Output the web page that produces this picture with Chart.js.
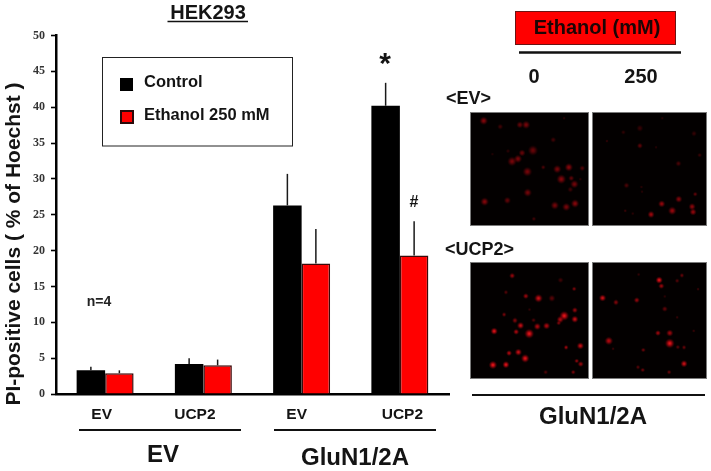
<!DOCTYPE html>
<html><head><meta charset="utf-8">
<script src="https://cdn.jsdelivr.net/npm/chart.js@4"></script>
<style>
html,body{margin:0;padding:0;background:#fff;width:711px;height:471px;overflow:hidden}
#wrap{position:relative;width:711px;height:471px}
#main{position:absolute;left:0;top:0;filter:blur(0.35px)}
.p{position:absolute;display:block;filter:blur(0.3px)}
</style></head><body>
<div id="wrap"><canvas id="main" width="711" height="471"></canvas></div>
<script>
const FONT='"Liberation Sans",Arial,sans-serif';
const categories=['EV','UCP2','EV','UCP2'];
const controlValues=[3.3,4.2,26.3,40.2];
const ethanolValues=[2.9,4.0,18.2,19.3];
const controlErrors=[0.5,0.8,4.4,3.2];
const ethanolErrors=[0.4,0.8,4.8,4.8];
const yTicks=[0,5,10,15,20,25,30,35,40,45,50];
// micrograph spots: [x, y, radius, brightness]
const spotsEV0=[[122,353,3,.8],[175,372,2,.4],[238,366,2.5,.6],[258,366,3,.7],[380,345,1,.3],[345,414,2,.4],[280,448,3.8,.6],[245,456,2.5,.6],[232,475,3,.7],[213,483,3.5,.7],[200,450,1.5,.25],[262,516,3.5,.7],[313,502,1.5,.5],[358,508,3,.7],[395,502,3,.8],[438,505,2,.5],[371,540,3.5,.8],[403,537,2,.6],[413,556,3,.7],[432,540,1,.3],[400,573,2,.4],[263,583,3,.7],[125,612,3,.8],[198,608,2.5,.6],[350,624,3,.7],[387,629,3,.7],[415,618,3,.8],[283,667,1.5,.4],[150,460,1,.25]];
const spotsEV250=[[598,377,2.5,.3],[545,390,1.5,.3],[772,394,2,.3],[598,433,2,.55],[492,418,1,.3],[650,438,1,.25],[790,463,1.5,.35],[722,490,2,.45],[555,560,2,.45],[603,565,1,.25],[605,580,1,.25],[723,604,2.5,.75],[776,588,1.5,.6],[668,619,2.5,.85],[702,641,3,.85],[766,628,2.5,.8],[769,645,2.5,.8],[634,653,2.5,.9],[551,641,1,.4],[575,650,1,.3],[670,345,1,.25]];
const spotsUCP0=[[212,114,2,.7],[368,128,2,.3],[192,167,1.5,.4],[412,156,1.5,.6],[256,179,2,.7],[297,186,3,.9],[340,186,2.5,.4],[414,224,2,.7],[268,222,1,.3],[186,238,1.5,.6],[221,257,2,.6],[380,242,3.5,1],[367,254,2.5,.8],[362,265,1.5,.6],[414,253,2.5,.9],[281,256,1.5,.4],[239,273,2.5,.9],[293,276,2.5,.8],[323,274,2.5,.8],[154,291,2.5,1],[225,293,2,.8],[267,299,3.5,1],[386,343,1.5,.8],[432,338,2.5,.9],[202,361,2,.8],[232,358,2.5,.9],[254,378,3,1],[150,399,3,1],[192,398,2.5,1],[420,386,1.5,.7],[433,396,2,.7],[320,422,1.5,.4],[409,422,1.5,.6]];
const spotsUCP250=[[594,110,1,.3],[733,113,1.5,.5],[660,128,2.5,1],[718,130,1.5,.4],[667,147,2,.7],[785,157,1,.3],[478,185,2.5,.9],[521,199,2,.6],[588,192,2,.7],[678,220,2,.45],[718,247,1,.3],[771,290,1,.3],[656,297,2,.7],[694,297,2.5,.7],[498,322,3,.8],[694,330,3.5,1],[720,342,1.5,.4],[740,343,1.5,.5],[609,351,1.5,.5],[512,347,1,.3],[740,395,2.5,.9],[592,406,1.5,.4],[607,415,1.5,.5],[692,422,1.5,.5],[678,180,1,.25]];

function T(c,s,x,y,font,o={}){
  c.save();c.font=font;c.fillStyle=o.color||'#141414';c.textAlign=o.align||'center';c.textBaseline='middle';
  if(o.rotate){c.translate(x,y);c.rotate(o.rotate);c.fillText(s,0,0);}else c.fillText(s,x,y);
  c.restore();
}
function L(c,x1,y1,x2,y2,w,col){c.save();c.strokeStyle=col||'#111';c.lineWidth=w;c.beginPath();c.moveTo(x1,y1);c.lineTo(x2,y2);c.stroke();c.restore();}

const errorBars={id:'errorBars',afterDatasetsDraw(ch){
  const c=ch.ctx,ys=ch.scales.y;
  [controlErrors,ethanolErrors].forEach((errs,d)=>{
    ch.getDatasetMeta(d).data.forEach((b,i)=>{
      const v=ch.data.datasets[d].data[i];
      L(c,b.x,ys.getPixelForValue(v),b.x,ys.getPixelForValue(v+errs[i]),1.5,'#1a1a1a');
    });
  });
}};
const labelNudges=[-3.5,-8.5,-5,2.5];
const annotations={id:'annotations',afterDraw(ch){
  const c=ch.ctx,xs=ch.scales.x;
  T(c,'PI-positive cells ( % of Hoechst )',14,244,'bold 21px '+FONT,{rotate:-Math.PI/2});
  T(c,'HEK293',208,13,'bold 20px '+FONT);L(c,167.5,21.5,248,21.5,1.4);
  categories.forEach((s,i)=>T(c,s,xs.getPixelForTick(i)+labelNudges[i],415,'bold 15.5px '+FONT));
  L(c,79,430,241,430,2.2);L(c,274,430,436,430,2.2);
  T(c,'EV',163,455,'bold 24px '+FONT);
  T(c,'GluN1/2A',355,458,'bold 24px '+FONT);
  T(c,'n=4',99,302,'bold 14px '+FONT,{color:'#222'});
  T(c,'*',385,65,'bold 30px '+FONT);
  T(c,'#',414,203,'bold 16px '+FONT);
  // legend
  c.save();c.strokeStyle='#222';c.lineWidth=1;c.strokeRect(102.5,57.5,190,88.5);
  c.fillStyle='#000';c.fillRect(120,78,13,13);
  c.fillStyle='#ff0000';c.strokeStyle='#2a0a0a';c.lineWidth=2;c.fillRect(121,111,12,12);c.strokeRect(121,111,12,12);c.restore();
  T(c,'Control',144,82,'bold 16.5px '+FONT,{align:'left'});
  T(c,'Ethanol 250 mM',144,115,'bold 16.5px '+FONT,{align:'left'});
  // right-hand side
  c.save();c.fillStyle='#ff0000';c.fillRect(515.5,11.5,160,33);c.strokeStyle='#6b1414';c.lineWidth=1;c.strokeRect(515.5,11.5,160,33);c.restore();
  T(c,'Ethanol (mM)',597,28,'bold 20px '+FONT,{color:'#1c0505'});
  L(c,519,52.5,681,52.5,2.4);
  T(c,'0',534,77,'bold 20px '+FONT);
  T(c,'250',641,77,'bold 20px '+FONT);
  T(c,'<EV>',446,99,'bold 18px '+FONT,{align:'left'});
  T(c,'<UCP2>',445,250,'bold 18px '+FONT,{align:'left'});
  L(c,472,395,705,395,2.2);
  T(c,'GluN1/2A',593,417,'bold 24px '+FONT);
}};

new Chart(document.getElementById('main'),{
  type:'bar',
  data:{labels:categories,datasets:[
    {label:'Control',data:controlValues,backgroundColor:'#000',borderColor:'#000',borderWidth:0},
    {label:'Ethanol 250 mM',data:ethanolValues,backgroundColor:'#ff0000',borderColor:'#3a0a0a',borderWidth:1.5}
  ]},
  options:{responsive:false,animation:false,events:[],
    layout:{padding:{left:0,right:262,top:35.5,bottom:0}},
    datasets:{bar:{categoryPercentage:.58,barPercentage:1}},
    plugins:{legend:{display:false},tooltip:{enabled:false}},
    scales:{
      x:{afterFit(s){s.height=77;},
        grid:{display:false},border:{color:'#000',width:2.5},ticks:{display:false}},
      y:{min:0,max:50,afterFit(s){s.width=56;},
        afterBuildTicks(s){s.ticks=yTicks.map(v=>({value:v}));},
        border:{color:'#000',width:2.5},
        grid:{drawOnChartArea:false,drawTicks:true,tickLength:5,tickColor:'#000',tickWidth:1.6},
        ticks:{padding:6,color:'#333',font:{family:'"Liberation Serif",serif',size:12,weight:'bold'}}}
    }
  },
  plugins:[errorBars,annotations]
});

function sprite(r0,a0,gain){
  const r=r0*.85+.3,a=a0*gain;
  const R=Math.ceil(r*1.6)+1,s=document.createElement('canvas');s.width=s.height=R*2;
  const g=s.getContext('2d'),gr=g.createRadialGradient(R,R,0,R,R,r*1.5);
  gr.addColorStop(0,`rgba(255,${a>.85?30:10},${a>.85?30:15},${a})`);
  gr.addColorStop(.4,`rgba(220,10,20,${a*.72})`);
  gr.addColorStop(1,'rgba(150,0,10,0)');
  g.fillStyle=gr;g.fillRect(0,0,R*2,R*2);return s;
}
const panelBg={id:'panelBg',beforeDraw(ch){const c=ch.ctx;c.save();c.fillStyle='#030000';c.fillRect(0,0,ch.width,ch.height);c.restore();},
  afterDraw(ch){const c=ch.ctx;c.save();c.strokeStyle='#7a7a7a';c.lineWidth=1;c.strokeRect(.5,.5,ch.width-1,ch.height-1);c.restore();}};
function panel(spots,gain,left,top,w,h,xr,yr){
  const cv=document.createElement('canvas');cv.className='p';cv.width=w;cv.height=h;cv.style.left=left+'px';cv.style.top=top+'px';
  document.getElementById('wrap').appendChild(cv);
  new Chart(cv,{type:'scatter',
    data:{datasets:[{data:spots.map(s=>({x:s[0],y:s[1]})),
      pointStyle:spots.map(s=>sprite(s[2],s[3],gain)),pointRadius:spots.map(s=>s[2]),borderWidth:0}]},
    options:{responsive:false,animation:false,events:[],clip:false,
      plugins:{legend:{display:false},tooltip:{enabled:false}},
      layout:{padding:0},
      scales:{x:{type:'linear',display:false,min:xr[0],max:xr[1]},y:{type:'linear',display:false,min:yr[0],max:yr[1],reverse:true}}},
    plugins:[panelBg]});
}
panel(spotsEV0,.75,470,112,119,114,[91,447],[338,677]);
panel(spotsEV250,.8,592,112,115,114,[457,801],[338,677]);
panel(spotsUCP0,1,470,262,119,117,[89,447],[83,431]);
panel(spotsUCP250,1,592,262,115,117,[457,801],[83,431]);
</script>
</body></html>
